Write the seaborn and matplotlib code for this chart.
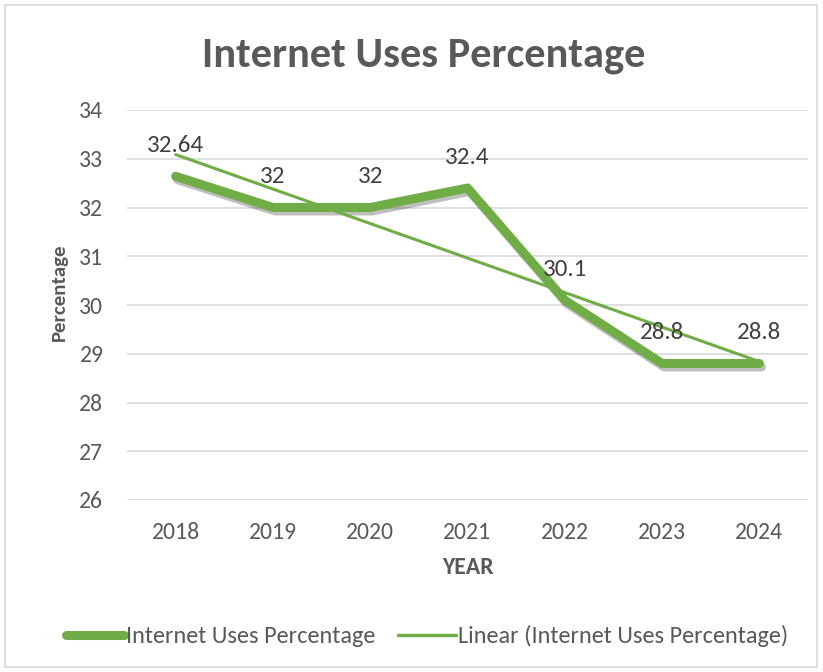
import numpy as np
import pandas as pd
import seaborn as sns
import matplotlib
matplotlib.use("Agg")
import matplotlib.pyplot as plt
import matplotlib.patheffects as pe
from matplotlib import font_manager
from matplotlib.lines import Line2D
from matplotlib.patches import Rectangle

years = ["2018", "2019", "2020", "2021", "2022", "2023", "2024"]
values = [32.64, 32, 32, 32.4, 30.1, 28.8, 28.8]
labels = ["32.64", "32", "32", "32.4", "30.1", "28.8", "28.8"]
yticks = [26, 27, 28, 29, 30, 31, 32, 33, 34]
title = "Internet Uses Percentage"
series_name = "Internet Uses Percentage"
trend_name = "Linear (Internet Uses Percentage)"

available = {f.name for f in font_manager.fontManager.ttflist}
fam = "Open Sans"
for cand in ["Carlito", "Liberation Sans Narrow", "DejaVu Sans Condensed", "Open Sans"]:
    if cand in available:
        fam = cand
        break

sns.set_theme(style="white")
plt.rcParams["font.family"] = [fam, "DejaVu Sans"]

GREEN = "#70AD47"
GRAY = "#595959"
DARK = "#404040"

df = pd.DataFrame({"year": years, "value": values})
df["x"] = np.arange(len(years))

fig = plt.figure(figsize=(8.23, 6.72), dpi=100)
ax = fig.add_axes([127/823, 1 - 500/672, (808 - 127)/823, (500 - 110)/672])

# trendline (linear fit as Excel does)
coef = np.polyfit(df["x"] + 1, df["value"], 1)
df["trend"] = np.polyval(coef, df["x"] + 1)

sns.lineplot(data=df, x="x", y="value", ax=ax, color=GREEN, lw=6.5,
             solid_capstyle="round", solid_joinstyle="round", zorder=3,
             path_effects=[pe.SimpleLineShadow(offset=(1.5, -2.5), alpha=0.25, shadow_color="black"),
                           pe.Normal()])
sns.lineplot(data=df, x="x", y="trend", ax=ax, color=GREEN, lw=2.2, zorder=4)

for xi, v, lab in zip(df["x"], values, labels):
    ax.annotate(lab, (xi, v), xytext=(0, 22), textcoords="offset points",
                ha="center", va="center", fontsize=18, color=DARK, zorder=5)

ax.set_xlim(-0.5, len(years) - 0.5)
ax.set_ylim(26, 34)
ax.set_yticks(yticks)
ax.set_yticklabels([str(t) for t in yticks])
ax.set_xticks(df["x"])
ax.set_xticklabels(years)
ax.tick_params(axis="both", labelsize=17, colors=GRAY, length=0)
ax.tick_params(axis="y", pad=17)
ax.tick_params(axis="x", pad=16)
for s in ax.spines.values():
    s.set_visible(False)
ax.grid(axis="y", color="#D9D9D9", lw=1.2)
ax.set_axisbelow(True)

ax.set_xlabel("YEAR", fontsize=17, fontweight="bold", color=GRAY, va="center")
ax.xaxis.set_label_coords(0.5, (500 - 568) / 390)
ax.set_ylabel("Percentage", fontsize=15, fontweight="bold", color=GRAY, va="center")
ax.yaxis.set_label_coords((59 - 127) / 681, (500 - 292) / 390)

fig.text(424/823, 1 - 55/672, title, ha="center", va="center", fontsize=30.5,
         fontweight="bold", color=GRAY)

handles = [Line2D([0], [0], color=GREEN, lw=6.5, solid_capstyle="round"),
           Line2D([0], [0], color=GREEN, lw=2.5)]
fig.legend(handles, [series_name, trend_name], loc="center", bbox_to_anchor=(427/823, 1 - 636/672),
           ncol=2, frameon=False, fontsize=17.5, labelcolor=GRAY, handlelength=2.4,
           handletextpad=0.1, columnspacing=0.9)

fig.patches.append(Rectangle((5/823, 5/672), 812/823, 662/672, transform=fig.transFigure,
                             fill=False, edgecolor="#D9D9D9", lw=1.2))

fig.savefig("out.png", dpi=100)
